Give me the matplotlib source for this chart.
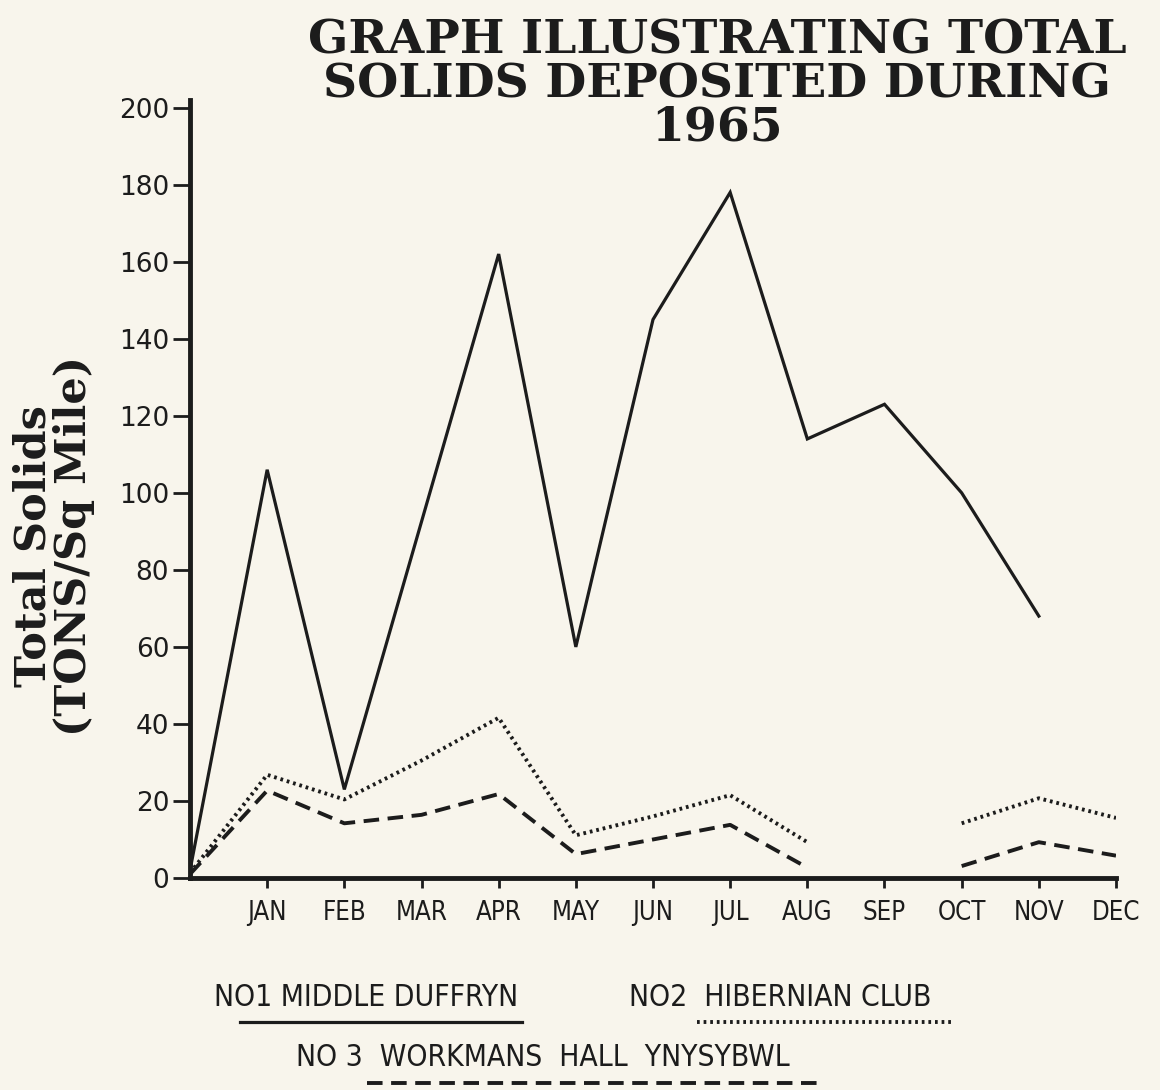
import numpy as np
import matplotlib.pyplot as plt
from matplotlib.lines import Line2D

# data (month 0 = start of year)
months = ['JAN', 'FEB', 'MAR', 'APR', 'MAY', 'JUN', 'JUL', 'AUG', 'SEP', 'OCT', 'NOV', 'DEC']
yticks = [0, 20, 40, 60, 80, 100, 120, 140, 160, 180, 200]

x_duffryn = [0, 1, 2, 4, 5, 6, 7, 8, 9, 10, 11]
middle_duffryn = [2, 106, 23, 162, 60, 145, 178, 114, 123, 100, 68]

x_other = [0, 1, 2, 3, 4, 5, 6, 7, 8, 9, 10, 11, 12]
hibernian_club = [1.3, 26.8, 20.4, 30.5, 41.6, 11.1, 16, 21.5, 9.3, np.nan, 14.2, 20.7, 15.6]
workmans_hall = [1, 22.7, 14.2, 16.4, 21.8, 6.2, 10, 13.8, 2.7, np.nan, 3.1, 9.3, 5.8]

bg = '#f8f5ec'
ink = '#1c1c1c'
slab = ['DejaVu Serif']

fig = plt.figure(figsize=(11.6, 10.9), dpi=100, facecolor=bg)
ax = fig.add_axes([190/1160, 212/1090, 926/1160, 778/1090])
ax.set_facecolor(bg)

ax.plot(x_duffryn, middle_duffryn, color=ink, lw=2.3, solid_joinstyle='miter')
ax.plot(x_other, hibernian_club, color=ink, lw=2.8, linestyle=(0, (0.7, 1.0)))
ax.plot(x_other, workmans_hall, color=ink, lw=2.8, linestyle=(0, (4, 2.2)))

ax.set_xlim(0, 12)
ax.set_ylim(0, 202)
for s in ['top', 'right']:
    ax.spines[s].set_visible(False)
ax.spines['left'].set_linewidth(3.5)
ax.spines['bottom'].set_linewidth(3.5)
ax.spines['left'].set_color(ink)
ax.spines['bottom'].set_color(ink)

ax.set_yticks(yticks)
ax.set_yticklabels([str(v) for v in yticks], fontsize=19, family='DejaVu Sans', color=ink)
ax.set_xticks(range(1, 13))
ax.set_xticklabels(months, fontsize=18.5, family='DejaVu Sans', stretch='condensed', color=ink)
ax.tick_params(axis='y', direction='out', length=12, width=2, pad=3, colors=ink)
ax.tick_params(axis='x', direction='out', length=7, width=2, pad=9, colors=ink)

# y label, two lines in one rotated text
fig.text(54/1160, 1 - 546/1090, 'Total Solids\n(TONS/Sq Mile)', rotation=90,
         ha='center', va='center', multialignment='center', linespacing=0.95,
         fontsize=31, fontweight='bold', family=slab, color=ink)

fig.text(0.618, 1 - 18/1090, 'GRAPH ILLUSTRATING TOTAL\nSOLIDS DEPOSITED DURING\n1965',
         ha='center', va='top', fontsize=34, fontweight='bold', family=slab,
         color=ink, linespacing=0.93)

# legend drawn as labels with underlines
fig.text(366/1160, 1 - 997/1090, 'NO1 MIDDLE DUFFRYN', ha='center', va='center',
         fontsize=21.5, family='DejaVu Sans', stretch='condensed', color=ink)
fig.text(780/1160, 1 - 997/1090, 'NO2  HIBERNIAN CLUB', ha='center', va='center',
         fontsize=21.5, family='DejaVu Sans', stretch='condensed', color=ink)
fig.text(543/1160, 1 - 1057/1090, 'NO 3  WORKMANS  HALL  YNYSYBWL', ha='center', va='center',
         fontsize=21.5, family='DejaVu Sans', stretch='condensed', color=ink)

fig.add_artist(Line2D([240/1160, 522/1160], [1 - 1022/1090] * 2, transform=fig.transFigure,
                      color=ink, lw=2.3))
fig.add_artist(Line2D([697/1160, 952/1160], [1 - 1022/1090] * 2, transform=fig.transFigure,
                      color=ink, lw=2.8, linestyle=(0, (0.7, 1.0))))
fig.add_artist(Line2D([367/1160, 822/1160], [1 - 1083/1090] * 2, transform=fig.transFigure,
                      color=ink, lw=2.8, linestyle=(0, (4, 2.2))))

fig.savefig('out.png', dpi=100, facecolor=bg)
